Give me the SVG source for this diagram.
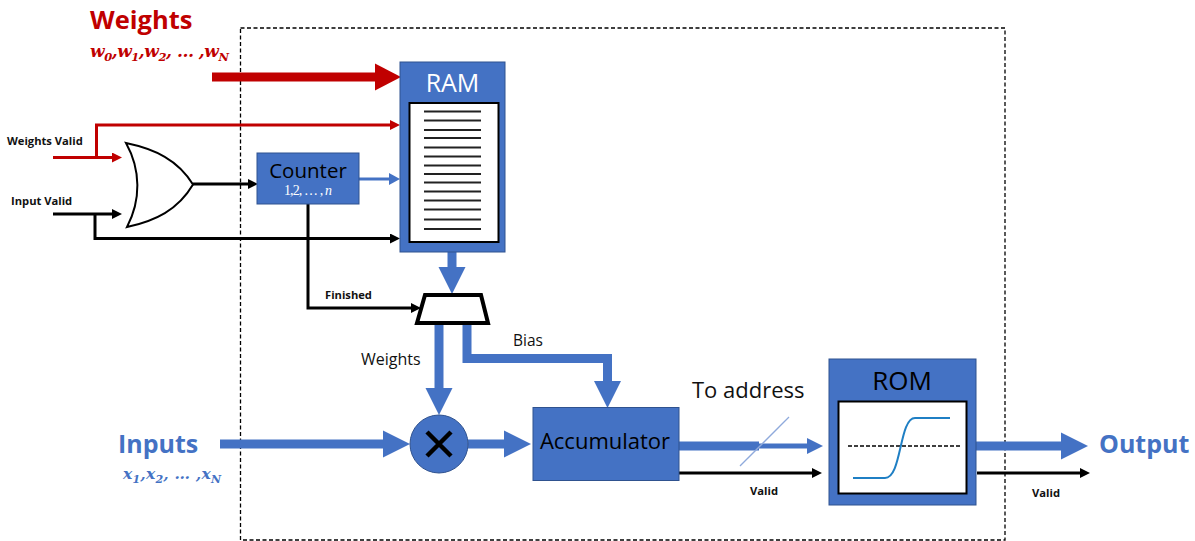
<svg xmlns="http://www.w3.org/2000/svg" width="1195" height="541" viewBox="0 0 1195 541">
<style>
text{font-family:"Open Sans","Noto Sans",sans-serif}
.box{fill:#4472c4;stroke:#2f528f;stroke-width:1}
.inner{fill:#fff;stroke:#000;stroke-width:2}
.big{stroke:#4472c4;stroke-width:9;fill:none}
.red{stroke:#c00000;fill:none;stroke-width:3}
.blk{stroke:#000;fill:none;stroke-width:3}
.math{font-family:"DejaVu Serif","Liberation Serif",serif;font-style:italic;font-weight:bold}
.sm{font-size:11.200px;font-weight:700;fill:#111}
.ln{stroke:#222;stroke-width:2}
</style>
<defs>
<marker id="hb" markerUnits="userSpaceOnUse" markerWidth="27" markerHeight="28" refX="0" refY="14" orient="auto"><path d="M0 .5L27 14L0 27.500z" fill="#4472c4"/></marker>
<marker id="hr" markerUnits="userSpaceOnUse" markerWidth="26" markerHeight="28" refX="0" refY="14" orient="auto"><path d="M0 .5L26 14L0 27.500z" fill="#c00000"/></marker>
<marker id="hk" markerUnits="userSpaceOnUse" markerWidth="10" markerHeight="10" refX="0" refY="5" orient="auto"><path d="M0 0L10 5L0 10z" fill="#000"/></marker>
<marker id="hrs" markerUnits="userSpaceOnUse" markerWidth="10" markerHeight="10" refX="0" refY="5" orient="auto"><path d="M0 0L10 5L0 10z" fill="#c00000"/></marker>
<marker id="hbs" markerUnits="userSpaceOnUse" markerWidth="11" markerHeight="12" refX="0" refY="6" orient="auto"><path d="M0 0L11 6L0 12z" fill="#4472c4"/></marker>
<marker id="hbm" markerUnits="userSpaceOnUse" markerWidth="16" markerHeight="16" refX="0" refY="8" orient="auto"><path d="M0 0L16 8L0 16z" fill="#4472c4"/></marker>
</defs>
<rect id="boundary" x="240.500" y="28" width="764.500" height="512" fill="none" stroke="#000" stroke-width="1.300" stroke-dasharray="4 2.500"/>
<g id="connectors">
<path d="M212 77H375" stroke="#c00000" stroke-width="9" fill="none" marker-end="url(#hr)"/>
<path class="red" d="M53 157.500H112" marker-end="url(#hrs)"/>
<path class="red" d="M96.500 157V125H390" marker-end="url(#hrs)"/>
<path class="blk" d="M53 214H112" marker-end="url(#hk)"/>
<path class="blk" d="M95 214V238.500H390" marker-end="url(#hk)"/>
<path class="blk" d="M193 184H248" marker-end="url(#hk)"/>
<path d="M359 179H389" stroke="#4472c4" stroke-width="3" fill="none" marker-end="url(#hbs)"/>
<path class="blk" d="M308 204V308H411" marker-end="url(#hk)"/>
<path class="big" d="M452 252V267" marker-end="url(#hb)"/>
<path class="big" d="M439 323V388" marker-end="url(#hb)"/>
<path class="big" d="M467 323V358.500H607.500V381" marker-end="url(#hb)"/>
<path class="big" d="M220 444H383" marker-end="url(#hb)"/>
<path class="big" d="M468 444H504" marker-end="url(#hb)"/>
<path class="big" d="M679 446H759"/>
<path d="M759 446H807" stroke="#4472c4" stroke-width="5" fill="none" marker-end="url(#hbm)"/>
<path d="M740 466L789 417" stroke="#8faadc" stroke-width="1.300"/>
<path class="blk" d="M679 473H812" marker-end="url(#hk)"/>
<path class="big" d="M976 446H1061" marker-end="url(#hb)"/>
<path class="blk" d="M977 473H1080" marker-end="url(#hk)"/>
</g>
<g id="or-gate"><path d="M126 143C155 149 178 160 193 184.500C178 210 155 221 127 227C141 200 141 170 126 143Z" fill="#fff" stroke="#000" stroke-width="2"/></g>
<g id="counter"><rect class="box" x="257" y="153" width="102" height="51"/>
<text x="308" y="177.500" font-size="20.500" text-anchor="middle" fill="#000">Counter</text>
<text x="284" y="195" font-size="14" fill="#fff" textLength="48" lengthAdjust="spacing" style="font-family:'Liberation Serif',serif">1,2, … , <tspan font-style="italic">n</tspan></text></g>
<g id="ram"><rect class="box" x="400" y="62" width="105" height="190"/>
<text x="452.500" y="92" font-size="25" text-anchor="middle" fill="#fff">RAM</text>
<rect class="inner" x="409.500" y="103" width="89" height="139"/>
<path class="ln" d="M424 111.500H481M424 120.500H481M424 130H481M424 138H481M424 147.500H481M424 156.500H481M424 165.500H481M424 174H481M424 182.500H481M424 191.500H481M424 200.500H481M424 209.500H481M424 219.500H481M424 229H481"/></g>
<g id="mux"><path d="M425 295H481L488 323H417Z" fill="#fff" stroke="#000" stroke-width="4"/></g>
<g id="multiplier"><circle cx="439" cy="444" r="29" fill="#4472c4" stroke="#2f528f"/>
<path d="M427 432L451 456M451 432L427 456" stroke="#000" stroke-width="4.500" fill="none"/></g>
<g id="accumulator"><rect class="box" x="533" y="407.500" width="146" height="73"/>
<text x="605" y="449" font-size="22" text-anchor="middle" fill="#000">Accumulator</text></g>
<g id="rom"><rect class="box" x="829" y="359" width="147" height="146"/>
<text x="902" y="390" font-size="26" text-anchor="middle" fill="#000">ROM</text>
<rect class="inner" x="838.500" y="401.500" width="128" height="92"/>
<path d="M848 446H960" stroke="#000" stroke-width="1.500" stroke-dasharray="4 2" fill="none"/>
<path d="M853 478H885C902 478 899 418 915 418H950" stroke="#1f7fc4" stroke-width="2" fill="none"/></g>
<g id="labels">
<text x="90" y="29" font-size="25.500" font-weight="700" fill="#c00000">Weights</text>
<text class="math" x="90" y="57" font-size="17" fill="#c00000" textLength="139" lengthAdjust="spacing">w<tspan font-size="11.500" dy="4">0</tspan><tspan dy="-4">,w</tspan><tspan font-size="11.500" dy="4">1</tspan><tspan dy="-4">,w</tspan><tspan font-size="11.500" dy="4">2</tspan><tspan dy="-4">, … ,w</tspan><tspan font-size="11.500" dy="4">N</tspan></text>
<text class="sm" x="7" y="144.500">Weights Valid</text>
<text class="sm" x="11" y="204.500">Input Valid</text>
<text class="sm" x="325" y="298.500">Finished</text>
<text x="361" y="365" font-size="16" fill="#111">Weights</text>
<text x="513" y="346" font-size="15.500" fill="#111">Bias</text>
<text x="692" y="398" font-size="22" fill="#111">To address</text>
<text x="118" y="453" font-size="25" font-weight="700" fill="#4472c4">Inputs</text>
<text class="math" x="123" y="479" font-size="15.500" fill="#4472c4" textLength="98" lengthAdjust="spacing">x<tspan font-size="11" dy="4">1</tspan><tspan dy="-4">,x</tspan><tspan font-size="11" dy="4">2</tspan><tspan dy="-4">, … ,x</tspan><tspan font-size="11" dy="4">N</tspan></text>
<text class="sm" x="764" y="495" text-anchor="middle">Valid</text>
<text class="sm" x="1046" y="497" text-anchor="middle">Valid</text>
<text x="1099" y="453" font-size="25" font-weight="700" fill="#4472c4">Output</text>
</g>
</svg>
